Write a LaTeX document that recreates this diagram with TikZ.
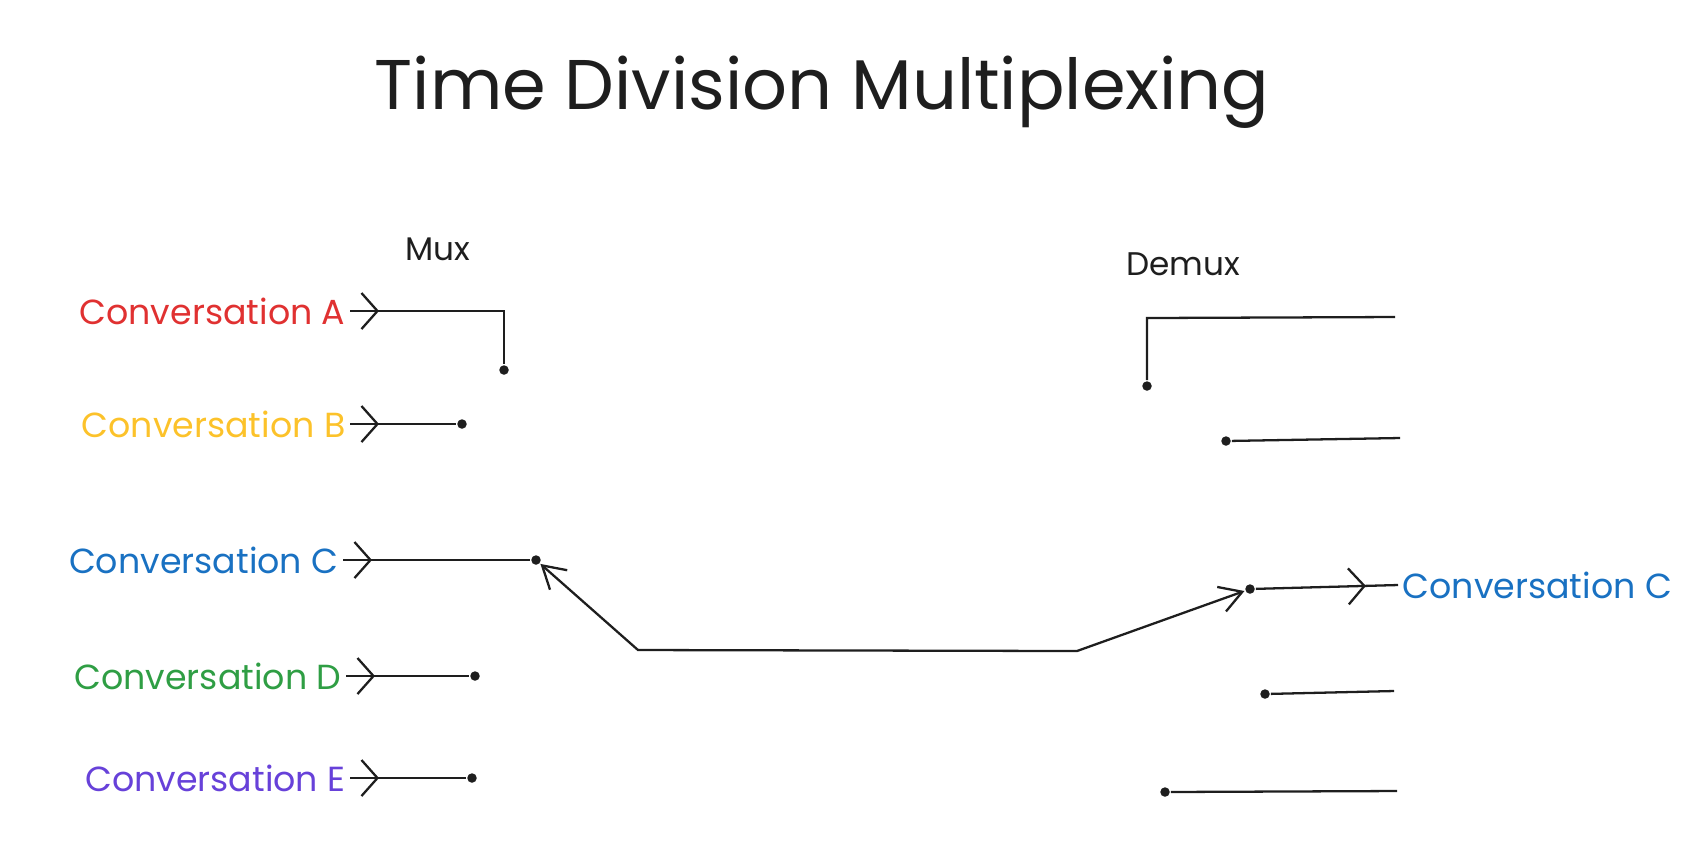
\documentclass[tikz,border=0pt]{standalone}
\usepackage{fontspec}
\setmainfont{Poppins}
\usetikzlibrary{arrows.meta,positioning,decorations.markings}

\definecolor{ink}{HTML}{1E1E1E}
\definecolor{convred}{HTML}{E03131}
\definecolor{convyellow}{HTML}{FCC22A}
\definecolor{convblue}{HTML}{1971C2}
\definecolor{convgreen}{HTML}{2F9E44}
\definecolor{convviolet}{HTML}{6741D9}

\begin{document}
\begin{tikzpicture}[
            x=0.01cm, y={(0,-0.01cm)},
            every path/.append style={color=ink, line width=0.65pt},
            convlabel/.style={font=\fontsize{9.9}{12}\selectfont, inner sep=1pt},
            muxdot/.style={circle, fill=ink, inner sep=0pt, minimum size=0.095cm},
            feed/.style={postaction={decorate}, decoration={markings,
                mark=at position #1 with {\arrow{Straight Barb[length=1.6mm,width=3.6mm]}}}},
            feed/.default=0.29cm,
            barb/.tip={Straight Barb[length=2.2mm,width=2.6mm]}
        ]
            \useasboundingbox (0,0) rectangle (1706,850);

            \node[font=\fontsize{20}{24}\selectfont] (title) at (822,92) {Time Division Multiplexing};
            \node[font=\fontsize{9.3}{11}\selectfont] (mux)   at (438,249)  {Mux};
            \node[font=\fontsize{9.3}{11}\selectfont] (demux) at (1183,264) {Demux};

            % mux side
            \coordinate (inA) at (350,311);
            \coordinate (inB) at (350,424);
            \coordinate (inC) at (343,560);
            \coordinate (inD) at (346,676);
            \coordinate (inE) at (350,778);
            \coordinate (cornerA) at (504,311);

            \node[convlabel, text=convred,    left=0pt of inA] (convA) {Conversation A};
            \node[convlabel, text=convyellow, left=0pt of inB] (convB) {Conversation B};
            \node[convlabel, text=convblue,   left=0pt of inC] (convC) {Conversation C};
            \node[convlabel, text=convgreen,  left=0pt of inD] (convD) {Conversation D};
            \node[convlabel, text=convviolet, left=0pt of inE] (convE) {Conversation E};

            \node[muxdot] (dotA) at (504,370) {};
            \node[muxdot] (dotB) at (462,424) {};
            \node[muxdot] (dotC) at (536,560) {};
            \node[muxdot] (dotD) at (475,676) {};
            \node[muxdot] (dotE) at (472,778) {};

            \draw[feed] (convA.east) -- (cornerA) -- (dotA);
            \draw[feed] (convB.east) -- (dotB);
            \draw[feed] (convC.east) -- (dotC);
            \draw[feed] (convD.east) -- (dotD);
            \draw[feed] (convE.east) -- (dotE);

            % demux side
            \node[muxdot] (dmxA) at (1147,386) {};
            \node[muxdot] (dmxB) at (1226,441) {};
            \node[muxdot] (dmxC) at (1250,589) {};
            \node[muxdot] (dmxD) at (1265,694) {};
            \node[muxdot] (dmxE) at (1165,792) {};

            \coordinate (cornerDA) at (1147,318);
            \coordinate (outA) at (1395,317);
            \coordinate (outB) at (1400,438);
            \coordinate (outC) at (1398,585);
            \coordinate (outD) at (1394,691);
            \coordinate (outE) at (1397,791);

            \node[convlabel, text=convblue, right=0pt of outC] (convOutC) {Conversation C};

            \draw (dmxA) -- (cornerDA) -- (outA);
            \draw (dmxB) -- (outB);
            \draw[feed=1.1cm] (dmxC) -- (convOutC.west);
            \draw (dmxD) -- (outD);
            \draw (dmxE) -- (outE);

            % shared link
            \coordinate (linkL) at (638,650);
            \coordinate (linkR) at (1077,651);
            \draw[barb-barb] (dotC) -- (linkL) -- (linkR) -- (dmxC);
        \end{tikzpicture}
\end{document}
